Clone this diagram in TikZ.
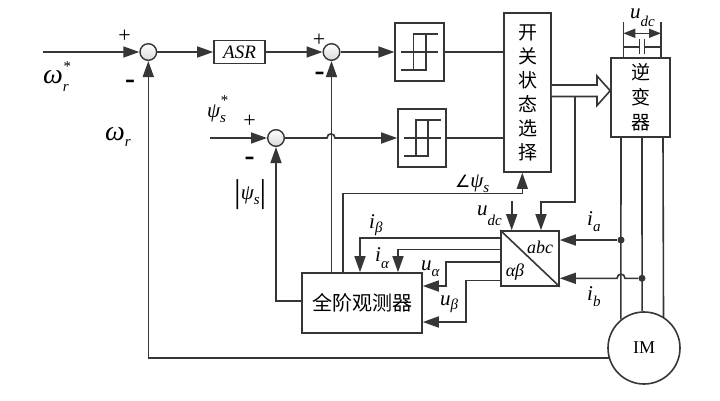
\documentclass[tikz,border=0pt]{standalone}
\usepackage{fontspec}
\setmainfont{Liberation Serif}
\newfontfamily\cjk{Noto Sans CJK SC}
\newfontfamily\djv{DejaVu Sans}
\usetikzlibrary{arrows.meta,calc}
\definecolor{lc}{HTML}{363636}
\newcommand\fs[1]{\fontsize{#1}{#1}\selectfont}
\newcommand\subl[2]{\raisebox{#1}{\fs{15}\itshape #2}}
\begin{document}
\begin{tikzpicture}[x=1pt,y=-1pt,
  ln/.style={draw=lc, line width=1.6pt},
  arr/.style={ln, -{Triangle[length=16pt,width=11pt]}},
  blk/.style={draw=lc, line width=1.6pt, fill=white, inner sep=0pt},
  sumc/.style={circle, draw=lc, line width=1.4pt, minimum size=16.6pt, inner sep=0pt, top color=white, bottom color=gray!30},
  lab/.style={inner sep=0pt, anchor=base west, text=black},
  sgn/.style={inner sep=0pt, text=black},
  dotn/.style={circle, fill=lc, inner sep=0pt, minimum size=7pt}]
\useasboundingbox (0,0) rectangle (720,400);
\fill[white] (0,0) rectangle (720,400);

% blocks
\node[sumc] (sum1) at (148.3,52) {};
\node[sumc] (sum2) at (331.5,52) {};
\node[sumc] (sum3) at (276,138) {};
\node[blk, minimum width=51pt, minimum height=23pt, font=\fs{19}\itshape] (asr) at (239.5,52) {ASR};
\node[blk, minimum width=48.5pt, minimum height=58pt] (hyst1) at (419.5,52) {};
\node[blk, minimum width=48pt, minimum height=58pt] (hyst2) at (422,138) {};
\node[blk, minimum width=47pt, minimum height=159pt, align=center, font=\cjk\fontsize{19}{24}\selectfont] (sw) at (527.5,92.5)
  {开\\关\\状\\态\\选\\择};
\node[blk, minimum width=59pt, minimum height=79pt, align=center, font=\cjk\fontsize{19}{25}\selectfont] (inv) at (640.5,97.5)
  {逆\\变\\器};
\node[blk, minimum width=120pt, minimum height=60pt, font=\cjk\fs{20}] (obs) at (362,303) {全阶观测器};
\node[blk, minimum width=58pt, minimum height=55pt] (conv) at (530,258.5) {};
\draw[ln] (conv.north west) -- (conv.south east);
\node[sgn] (abcl) at (540,247) {\fs{18}\itshape abc};
\node[sgn] (abl) at (515,272) {\fs{18}\itshape αβ};
\node[circle, draw=lc, line width=1.6pt, minimum size=72pt, inner sep=0pt] (im) at (644,348) {\fs{18}IM};

% hysteresis symbols
\foreach \h in {hyst1,hyst2}{
  \draw[ln] ($(\h)+(-18.5,0)$) -- ($(\h)+(18.5,0)$);
  \draw[ln] ($(\h)+(-18.5,18)$) -- ($(\h)+(6.2,18)$) -- ($(\h)+(6.2,-18)$) -- ($(\h)+(18.5,-18)$);
  \draw[ln] ($(\h)+(-6.2,18)$) -- ($(\h)+(-6.2,-18)$) -- ($(\h)+(6.2,-18)$);
}

% forward path
\coordinate (wstar) at (43,52);
\draw[arr] (wstar) -- (sum1);
\draw[arr] (sum1) -- (asr);
\draw[arr] (asr) -- (sum2);
\draw[arr] (sum2) -- (hyst1);
\draw[ln] (hyst1) -- (hyst1 -| sw.west);
\coordinate (psistar) at (210,138);
\draw[arr] (psistar) -- (sum3);
\draw[arr] (sum3) -- (327,138) .. controls (327,132.5) and (335,132.5) .. (335,138) -- (hyst2);
\draw[ln] (hyst2) -- (hyst2 -| sw.west);

% hollow double arrow to inverter
\coordinate (da1) at (597,85);
\coordinate (da2) at (597,96.5);
\draw[ln, fill=white] (da1 -| sw.east) -- (da1) -- (597,76) -- (inv.west |- 0,90.7) -- (597,105.5) -- (da2) -- (da2 -| sw.east);

% capacitor and u_dc
\coordinate (c1) at (623.3,22);
\coordinate (c2) at (661,22);
\draw[ln] (c1) -- (c1 |- inv.north);
\draw[ln] (c2) -- (c2 |- inv.north);
\draw[ln] (623.3,46.7) -- (639.3,46.7);
\draw[ln] (644.3,46.7) -- (661,46.7);
\draw[ln] (639.3,39) -- (639.3,53.5);
\draw[ln] (644.3,39) -- (644.3,53.5);
\draw[ln, {Triangle[length=12pt,width=9pt]}-{Triangle[length=12pt,width=9pt]}] (c1 |- 0,33.3) -- (c2 |- 0,33.3);

% tap to converter
\coordinate (tap) at (575,96.5);
\coordinate (tapc) at (575,202);
\coordinate (tapd) at (541,202);
\draw[arr] (tap) -- (tapc) -- (tapd) -- (tapd |- conv.north);
\coordinate (udcin) at (511.7,201);
\draw[arr] (udcin) -- (udcin |- conv.north);

% angle of flux
\coordinate (ang1) at (343,193.3);
\coordinate (ang2) at (522.3,193.3);
\draw[arr] (ang1 |- obs.north) -- (ang1) -- (ang2) -- (ang2 |- sw.south);

% torque feedback to sum2
\draw[arr] (sum2 |- obs.north) -- (sum2);

% currents and voltages to observer
\coordinate (ib1) at (360,237.7);
\draw[arr] (ib1 -| conv.west) -- (ib1) -- (ib1 |- obs.north);
\coordinate (ia1) at (398,249.5);
\draw[arr] (ia1 -| conv.west) -- (ia1) -- (ia1 |- obs.north);
\coordinate (ua1) at (446,262);
\coordinate (ua2) at (446,286);
\draw[arr] (ua1 -| conv.west) -- (ua1) -- (ua2) -- (ua2 -| obs.east);
\coordinate (ub1) at (466,280.5);
\coordinate (ub2) at (466,322);
\draw[arr] (ub1 -| conv.west) -- (ub1) -- (ub2) -- (ub2 -| obs.east);

% flux magnitude feedback
\coordinate (pf) at (276,301);
\draw[arr] (pf -| obs.west) -- (pf) -- (sum3);

% inverter to motor
\coordinate (pa) at (621,0);
\coordinate (pb) at (642,0);
\coordinate (pc) at (663,0);
\draw[ln] (pa |- inv.south) -- (im.129.7);
\draw[ln] (pb |- inv.south) -- (im.93.2);
\draw[ln] (pc |- inv.south) -- (im.58.1);
\node[dotn] (ja) at (621,240) {};
\node[dotn] (jb) at (642,278.3) {};
\draw[arr] (ja) -- (ja -| conv.east);
\draw[arr] (jb) -- (625,278.3) .. controls (625,272.8) and (617,272.8) .. (617,278.3) -- (jb -| conv.east);

% speed feedback
\draw[arr] (im.196) -- (im.196 -| sum1) -- (sum1);

% signs
\node[sgn] (p1) at (124.7,35.8) {\fs{22}+};
\node[sgn] (p2) at (319,40.5) {\fs{22}+};
\node[sgn] (p3) at (249.7,121) {\fs{22}+};
\node[sgn, anchor=base] (m1) at (130,88) {\fs{30}\bfseries -};
\node[sgn, anchor=base] (m2) at (319.7,80.5) {\fs{30}\bfseries -};
\node[sgn, anchor=base] (m3) at (249.5,165) {\fs{30}\bfseries -};

% labels
\node[lab] (lwref) at (43,83.3) {\fs{28}\itshape ω\rlap{\subl{-8.4pt}{r}}\subl{12.3pt}{*}};
\node[lab] (lwr) at (105,140) {\fs{28}\itshape ω\subl{-6.7pt}{r}};
\node[lab] (lpsiref) at (207,117.5) {\fs{21}\itshape ψ\rlap{\subl{-4.8pt}{s}}\subl{12.5pt}{*}};
\node[lab] (lpsiabs) at (234,199) {\raisebox{-3.5pt}{\fs{33}|}\fs{21}\itshape ψ\subl{-5pt}{s}\raisebox{-3.5pt}{\fs{33}\upshape|}};
\node[lab] (lang) at (455,187.5) {{\djv\fs{17}∠}\fs{21}\itshape ψ\subl{-5pt}{s}};
\node[lab] (ludc) at (477,215) {\fs{21}\itshape u\subl{-10pt}{dc}};
\node[lab] (lib) at (369,228) {\fs{21}\itshape i\subl{-4pt}{β}};
\node[lab] (lia) at (375,261.7) {\fs{21}\itshape i\subl{-6.3pt}{α}};
\node[lab] (lua) at (421,270) {\fs{21}\itshape u\subl{-6.7pt}{α}};
\node[lab] (lub) at (440,305) {\fs{21}\itshape u\subl{-4pt}{β}};
\node[lab] (lia2) at (587,225) {\fs{21}\itshape i\subl{-6.7pt}{a}};
\node[lab] (lib2) at (587,300) {\fs{21}\itshape i\subl{-6pt}{b}};
\node[lab] (ludc2) at (630,18.3) {\fs{21}\itshape u\subl{-7.7pt}{dc}};
\end{tikzpicture}
\end{document}
